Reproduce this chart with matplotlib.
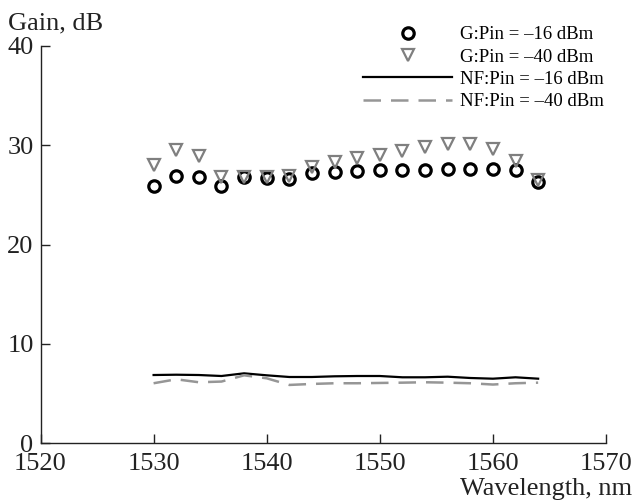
import matplotlib
matplotlib.use('Agg')
import matplotlib.pyplot as plt

plt.rcParams['font.family'] = ['Liberation Serif', 'DejaVu Serif']

# wavelength grid, nm
wavelength = [1530, 1532, 1534, 1536, 1538, 1540, 1542, 1544, 1546,
              1548, 1550, 1552, 1554, 1556, 1558, 1560, 1562, 1564]

# gain, dB
gain_16 = [25.9, 26.9, 26.8, 25.9, 26.8, 26.7, 26.6, 27.2, 27.3,
           27.4, 27.5, 27.5, 27.5, 27.6, 27.6, 27.6, 27.5, 26.3]
gain_40 = [28.0, 29.5, 28.9, 26.8, 26.8, 26.8, 26.9, 27.8, 28.3,
           28.7, 29.0, 29.4, 29.8, 30.1, 30.1, 29.6, 28.4, 26.5]

# noise figure, dB
nf_16 = [6.85, 6.88, 6.85, 6.75, 7.02, 6.82, 6.65, 6.65, 6.72,
         6.75, 6.75, 6.62, 6.62, 6.68, 6.55, 6.48, 6.62, 6.48]
nf_40 = [6.02, 6.42, 6.12, 6.19, 6.82, 6.52, 5.85, 5.95, 6.02,
         6.02, 6.05, 6.08, 6.12, 6.08, 6.02, 5.89, 6.02, 6.08]

labels = ['G:Pin = \u201316 dBm', 'G:Pin = \u201340 dBm',
          'NF:Pin = \u201316 dBm', 'NF:Pin = \u201340 dBm']

fig = plt.figure(figsize=(6.34, 5.01), dpi=100)
ax = fig.add_axes([40.5 / 634, 1 - 443 / 501, (606 - 40.5) / 634, (443 - 46) / 501])

ax.plot(wavelength, gain_16, 'o', mfc='none', mec='black', ms=8.2, mew=2.3, label=labels[0])
ax.plot(wavelength, gain_40, 'v', mfc='none', mec='#7f7f7f', ms=8.5, mew=1.6, label=labels[1])
ax.plot(wavelength, nf_16, '-', color='black', lw=1.6, label=labels[2])
ax.plot(wavelength, nf_40, '--', color='#969696', lw=1.8, dashes=(7, 4), label=labels[3])

ax.set_xlim(1520, 1570)
ax.set_ylim(0, 40)
ax.set_xticks([1520, 1530, 1540, 1550, 1560, 1570])
ax.set_yticks([0, 10, 20, 30, 40])

for s in ['top', 'right']:
    ax.spines[s].set_visible(False)
for s in ['left', 'bottom']:
    ax.spines[s].set_linewidth(1.0)
    ax.spines[s].set_color('#222222')

ax.tick_params(axis='both', direction='in', length=6.5, width=1.0,
               labelsize=19, colors='#222222')
ax.tick_params(axis='y', pad=5)
ax.tick_params(axis='x', pad=7)

fig.text(8 / 634, 1 - 29 / 501, 'Gain, dB', fontsize=19, color='#222222', va='baseline')
fig.text(632 / 634, 1 - 495 / 501, 'Wavelength, nm', fontsize=19, color='#222222',
         ha='right', va='baseline')

fig.legend(loc='upper left', bbox_to_anchor=(363 / 634, 1 - 26 / 501),
           frameon=False, fontsize=13.5, handlelength=4.75, handletextpad=0.43,
           labelspacing=0.28, borderpad=0, borderaxespad=0)

fig.savefig('out.png', dpi=100)
